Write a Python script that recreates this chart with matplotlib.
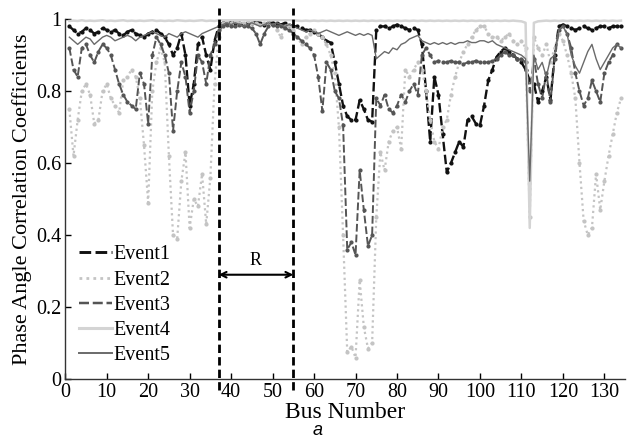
import numpy as np
import matplotlib
matplotlib.use("Agg")
import matplotlib.pyplot as plt
from matplotlib.lines import Line2D

# === Data ===
bus = list(range(1, 135))

event1 = [0.98, 0.97, 0.96, 0.965, 0.975, 0.97, 0.96, 0.965, 0.975, 0.97,
          0.965, 0.97, 0.96, 0.955, 0.965, 0.97, 0.96, 0.955, 0.95, 0.96,
          0.965, 0.97, 0.96, 0.95, 0.93, 0.90, 0.92, 0.96, 0.90, 0.76, 0.82, 0.93, 0.95, 0.90, 0.86, 0.94, 0.98,
          0.99, 0.99, 0.995, 0.99, 0.99, 0.985, 0.99, 0.99, 0.995, 0.99, 0.985, 0.99, 0.99, 0.99, 0.985, 0.99, 0.985, 0.98,
          0.98, 0.975, 0.97, 0.97, 0.965, 0.96, 0.95, 0.94, 0.935, 0.88, 0.82, 0.76,
          0.73, 0.72, 0.72, 0.775, 0.75, 0.72, 0.715,
          0.97, 0.98, 0.98, 0.975, 0.98, 0.985, 0.98, 0.975, 0.97, 0.975, 0.97, 0.93,
          0.80, 0.66, 0.84, 0.79, 0.68, 0.575, 0.60, 0.63, 0.66, 0.645, 0.72, 0.73, 0.71, 0.705,
          0.76, 0.83, 0.86, 0.895, 0.91, 0.92, 0.91, 0.90, 0.89, 0.88, 0.86,
          0.83, 0.82, 0.77, 0.80, 0.84, 0.775, 0.90,
          0.98, 0.985, 0.98, 0.975, 0.97, 0.975, 0.98, 0.975, 0.97, 0.975, 0.98, 0.98, 0.975, 0.98, 0.98, 0.98]

event2 = [0.75, 0.62, 0.72, 0.80, 0.82, 0.79, 0.71, 0.72, 0.80, 0.82,
          0.78, 0.76, 0.74, 0.83, 0.84, 0.86, 0.84, 0.78, 0.65, 0.49,
          0.80, 0.88, 0.92, 0.88, 0.62, 0.40, 0.39, 0.55, 0.63, 0.42, 0.50, 0.48, 0.57, 0.43, 0.56, 0.82, 0.95,
          0.99, 0.995, 0.99, 0.995, 0.99, 0.99, 0.995, 0.99, 0.99, 0.985, 0.99, 0.99, 0.985, 0.97, 0.95, 0.98, 0.985, 0.97,
          0.95, 0.93, 0.95, 0.96, 0.97, 0.96, 0.95, 0.93, 0.90, 0.85, 0.70, 0.40,
          0.075, 0.09, 0.06, 0.275, 0.145, 0.085, 0.10,
          0.45, 0.63, 0.58, 0.66, 0.69, 0.70, 0.64, 0.86, 0.84, 0.86, 0.88, 0.86,
          0.80, 0.72, 0.66, 0.64, 0.70, 0.72, 0.79, 0.84, 0.88, 0.91, 0.93, 0.95, 0.97, 0.98,
          0.98, 0.96, 0.95, 0.95, 0.94, 0.95, 0.96, 0.94, 0.93, 0.94, 0.92,
          0.45, 0.95, 0.92, 0.90, 0.93, 0.88, 0.92,
          0.96, 0.94, 0.90, 0.85, 0.78, 0.60, 0.44, 0.40, 0.42, 0.57, 0.47, 0.55, 0.62, 0.68, 0.74, 0.78]

event3 = [0.92, 0.86, 0.84, 0.92, 0.93, 0.90, 0.88, 0.91, 0.93, 0.92,
          0.90, 0.86, 0.82, 0.79, 0.77, 0.76, 0.75, 0.85, 0.82, 0.71,
          0.90, 0.95, 0.93, 0.90, 0.85, 0.69, 0.80, 0.88, 0.84, 0.74, 0.80, 0.90, 0.88, 0.82, 0.90, 0.93, 0.97,
          0.98, 0.985, 0.98, 0.98, 0.985, 0.98, 0.98, 0.975, 0.96, 0.93, 0.96, 0.98, 0.985, 0.98, 0.98, 0.975, 0.97, 0.96,
          0.95, 0.94, 0.93, 0.92, 0.90, 0.84, 0.745, 0.88, 0.86, 0.80, 0.78, 0.705,
          0.36, 0.38, 0.345, 0.58, 0.47, 0.37, 0.40,
          0.78, 0.76, 0.79, 0.75, 0.74, 0.76, 0.79, 0.77, 0.80, 0.82, 0.79, 0.90,
          0.92, 0.90, 0.88, 0.885, 0.88, 0.88, 0.885, 0.88, 0.88, 0.875, 0.88, 0.88, 0.885, 0.88,
          0.88, 0.88, 0.885, 0.89, 0.90, 0.91, 0.90, 0.90, 0.89, 0.89, 0.88,
          0.80, 0.89, 0.82, 0.78, 0.85, 0.77, 0.89,
          0.97, 0.98, 0.96, 0.92, 0.85, 0.80, 0.76, 0.78, 0.83, 0.80, 0.77, 0.85, 0.88, 0.90, 0.93, 0.92]

event4 = [0.995, 0.996, 0.995, 0.997, 0.995, 0.996, 0.995, 0.996, 0.997, 0.995,
          0.996, 0.995, 0.996, 0.997, 0.995, 0.996, 0.995, 0.996, 0.995, 0.996,
          0.997, 0.995, 0.996, 0.995, 0.996, 0.995, 0.997, 0.996, 0.995, 0.996, 0.995, 0.996, 0.997, 0.995, 0.996, 0.995, 0.997,
          0.998, 0.997, 0.998, 0.997, 0.998, 0.997, 0.998, 0.997, 0.998, 0.997, 0.998, 0.997, 0.998, 0.997, 0.998, 0.997, 0.998, 0.997,
          0.996, 0.995, 0.996, 0.995, 0.996, 0.995, 0.996, 0.995, 0.996, 0.995, 0.996, 0.995,
          0.996, 0.995, 0.996, 0.995, 0.996, 0.995, 0.996,
          0.995, 0.996, 0.995, 0.996, 0.995, 0.996, 0.995, 0.996, 0.995, 0.996, 0.995, 0.996,
          0.995, 0.996, 0.995, 0.996, 0.995, 0.996, 0.995, 0.996, 0.995, 0.996, 0.995, 0.996, 0.995, 0.996,
          0.995, 0.996, 0.995, 0.996, 0.995, 0.996, 0.995, 0.996, 0.995, 0.994, 0.99,
          0.42, 0.99, 0.994, 0.995, 0.996, 0.995, 0.996,
          0.995, 0.996, 0.995, 0.996, 0.995, 0.996, 0.995, 0.996, 0.995, 0.996, 0.995, 0.996, 0.995, 0.996, 0.995, 0.996]

event5 = [0.95, 0.94, 0.93, 0.94, 0.95, 0.945, 0.93, 0.94, 0.95, 0.955,
          0.95, 0.94, 0.945, 0.95, 0.955, 0.95, 0.94, 0.95, 0.955, 0.96,
          0.965, 0.96, 0.955, 0.95, 0.96, 0.955, 0.95, 0.96, 0.965, 0.96, 0.955, 0.95, 0.96, 0.965, 0.97, 0.975, 0.98,
          0.985, 0.99, 0.985, 0.99, 0.985, 0.98, 0.985, 0.99, 0.985, 0.98, 0.985, 0.99, 0.985, 0.99, 0.985, 0.98, 0.985, 0.98,
          0.975, 0.97, 0.965, 0.97, 0.965, 0.96, 0.965, 0.97, 0.965, 0.96, 0.955, 0.96,
          0.965, 0.96, 0.955, 0.96, 0.955, 0.96, 0.955,
          0.89, 0.90, 0.91, 0.905, 0.92, 0.915, 0.93, 0.935, 0.945, 0.95, 0.955, 0.94,
          0.935, 0.93, 0.935, 0.93, 0.935, 0.93, 0.935, 0.93, 0.935, 0.935, 0.94, 0.935, 0.935, 0.94,
          0.94, 0.935, 0.94, 0.93, 0.925, 0.92, 0.915, 0.91, 0.905, 0.90, 0.89,
          0.55, 0.90, 0.86, 0.88, 0.84, 0.89, 0.90,
          0.97, 0.98, 0.96, 0.90, 0.87, 0.85, 0.88, 0.91, 0.93, 0.89, 0.86, 0.88, 0.90, 0.92, 0.93, 0.92]

labels = ["Event1", "Event2", "Event3", "Event4", "Event5"]
region_edges = [37, 55]

# === Styles ===
plt.rcParams["font.family"] = ["Liberation Serif", "DejaVu Serif"]
styles = [
    dict(color="#111111", ls=(0, (4, 1.5)), lw=1.7, marker=".", ms=4),
    dict(color="#c4c4c4", ls=(0, (1, 1.5)), lw=1.6, marker=".", ms=4),
    dict(color="#555555", ls=(0, (4, 1.5)), lw=1.4, marker=".", ms=4),
    dict(color="#d4d4d4", ls="-", lw=1.8),
    dict(color="#6a6a6a", ls="-", lw=1.0),
]

fig = plt.figure(figsize=(6.27, 4.46), dpi=100)
ax = fig.add_axes([0.104, 0.150, 0.893, 0.807])

series = [event1, event2, event3, event4, event5]
draw_order = [3, 1, 4, 2, 0]
for i in draw_order:
    ax.plot(bus, series[i], **styles[i], zorder=2 + i * 0.1)

# === Region R ===
for xv in region_edges:
    ax.plot([xv, xv], [-0.03, 1.03], color="black", lw=2, ls=(0, (3, 1.5)),
            clip_on=False, zorder=5)
ax.annotate("", xy=(region_edges[0], 0.29), xytext=(region_edges[1], 0.29),
            arrowprops=dict(arrowstyle="<->", color="black", lw=1.5,
                            shrinkA=0, shrinkB=0, mutation_scale=10))
ax.text(sum(region_edges) / 2, 0.305, "R", ha="center", va="bottom", fontsize=13)

# === Axes ===
ax.set_xlim(0, 135)
ax.set_ylim(0, 1)
ax.set_xticks(range(0, 131, 10))
ax.set_yticks([0, 0.2, 0.4, 0.6, 0.8, 1])
ax.set_yticklabels(["0", "0.2", "0.4", "0.6", "0.8", "1"])
ax.tick_params(direction="in", labelsize=14.5, length=4, width=1, pad=3)
ax.spines["top"].set_visible(False)
ax.spines["right"].set_visible(False)
for s in ["left", "bottom"]:
    ax.spines[s].set_linewidth(1.0)
    ax.spines[s].set_color("#333333")
ax.set_xlabel("Bus Number", fontsize=17, labelpad=0)
ax.set_ylabel("Phase Angle Correlation Coefficients", fontsize=16, labelpad=3)

# === Legend (line styles only) ===
handles = [Line2D([], [], color=styles[i]["color"], ls=styles[i]["ls"],
                  lw=styles[i]["lw"] + 0.4) for i in range(5)]
ax.legend(handles, labels, loc="lower left", bbox_to_anchor=(0.0, 0.0),
          frameon=False, fontsize=14.5, handlelength=1.6, handletextpad=0.1,
          labelspacing=0.3, borderaxespad=0.3)

fig.text(0.506, 0.015, "a", fontsize=13, style="italic",
         family=["Liberation Sans", "DejaVu Sans"], ha="center", va="bottom")

fig.savefig("out.png", dpi=100)
